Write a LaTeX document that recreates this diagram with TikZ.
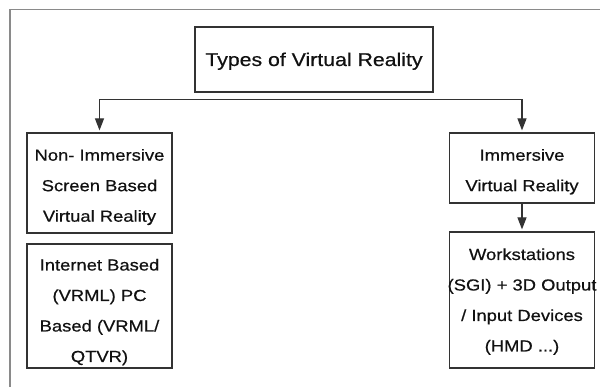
\documentclass[tikz,border=0pt]{standalone}
\usepackage{fontspec}
\setmainfont{Liberation Sans}[FakeStretch=1.15,FakeBold=0.5]
\usetikzlibrary{arrows.meta}
\definecolor{boxgray}{HTML}{333333}
\definecolor{framegray}{HTML}{8A8A8A}
\definecolor{textblack}{HTML}{111111}
\newcommand{\topstrut}[1]{\rule{0pt}{#1pt}}
\newcommand{\botstrut}{\rule[-5pt]{0pt}{5pt}}
\begin{document}
\begin{tikzpicture}[x=1pt,y=-1pt,
  box/.style={draw=boxgray, line width=1.2pt, inner sep=0pt, align=center,
    text=textblack, font=\fontsize{16}{30.5}\selectfont},
  conn/.style={draw=boxgray, line width=1.2pt, shorten >=2pt,
    -{Triangle[length=12pt,width=9pt]}}]
\useasboundingbox (0,0) rectangle (600,387);
\fill[white] (0,0) rectangle (600,387);
\draw[framegray, line width=1.3pt] (600,9.5) -- (10,9.5) -- (10,387);

\node[box, minimum width=238pt, minimum height=65pt,
  font=\fontsize{18.5}{22}\selectfont] (title) at (314,59.5)
  {\topstrut{18}Types of Virtual Reality\botstrut};
\node[box, minimum width=145pt, minimum height=100pt] (nonimm) at (99.5,183)
  {\topstrut{21.4}Non- Immersive\\Screen Based\\Virtual Reality\botstrut};
\node[box, minimum width=145pt, minimum height=124pt] (internet) at (99.5,306)
  {\topstrut{25.5}Internet Based\\(VRML) PC\\Based (VRML/\\QTVR)\botstrut};
\node[box, minimum width=145pt, minimum height=70pt] (imm) at (522,168)
  {\topstrut{20.9}Immersive\\Virtual Reality\botstrut};
\node[box, minimum width=145pt, minimum height=136pt] (work) at (522,300)
  {\topstrut{16.5}Workstations\\\makebox[140pt]{(SGI) + 3D Output}\\/ Input Devices\\(HMD ...)\botstrut};

\coordinate (bus) at ([yshift=-7pt]title.south);
\draw[conn] (bus) -| (nonimm.north);
\draw[conn] (bus) -| (imm.north);
\draw[conn] (imm.south) -- (work.north);
\end{tikzpicture}
\end{document}
